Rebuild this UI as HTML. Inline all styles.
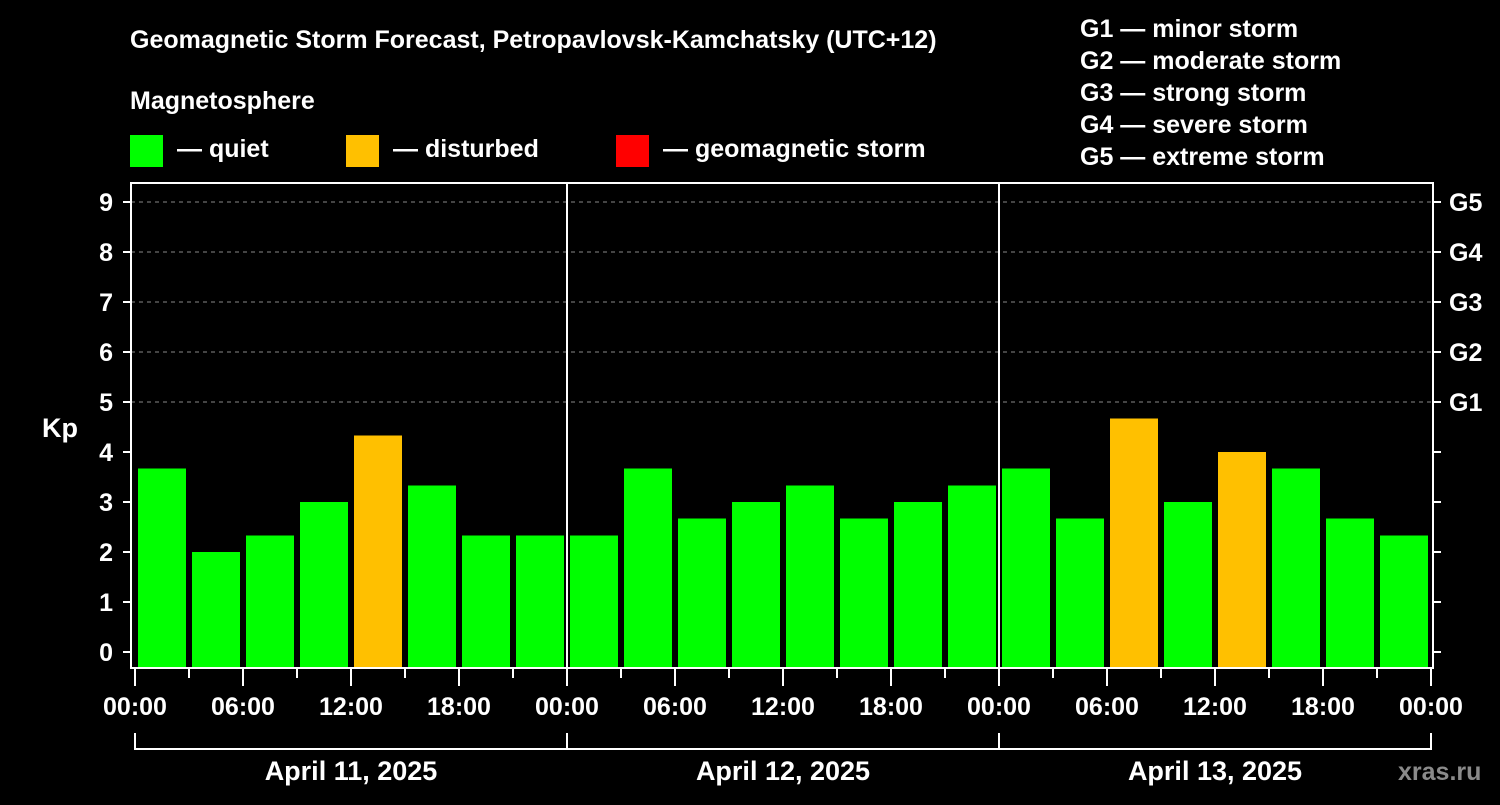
<!DOCTYPE html>
<html><head><meta charset="utf-8"><style>
body{margin:0;background:#000;width:1500px;height:800px;overflow:hidden}
svg text{font-family:"Liberation Sans",Arial,sans-serif;font-weight:bold;fill:#fff}
</style></head><body>
<svg id="c" width="1500" height="800" xmlns="http://www.w3.org/2000/svg">
<rect width="1500" height="800" fill="#000"/>
<text x="130" y="48" font-size="25">Geomagnetic Storm Forecast, Petropavlovsk-Kamchatsky (UTC+12)</text>
<text x="130" y="109" font-size="25">Magnetosphere</text>
<g><rect x="130" y="135" width="33" height="32" fill="#00ff00"/><text x="177" y="157" font-size="25">— quiet</text></g>
<g><rect x="346" y="135" width="33" height="32" fill="#ffc000"/><text x="393" y="157" font-size="25">— disturbed</text></g>
<g><rect x="616" y="135" width="33" height="32" fill="#ff0000"/><text x="663" y="157" font-size="25">— geomagnetic storm</text></g>
<g font-size="25">
<text x="1080" y="37">G1 — minor storm</text>
<text x="1080" y="69">G2 — moderate storm</text>
<text x="1080" y="101">G3 — strong storm</text>
<text x="1080" y="133">G4 — severe storm</text>
<text x="1080" y="165">G5 — extreme storm</text>
</g>
<text x="42" y="437" font-size="27">Kp</text>
<g id="grid"></g><g id="bars"></g><g id="axes"></g>
<text x="1398" y="780" font-size="25" fill="#888" style="fill:#8a8a8a">xras.ru</text>
</svg>
<script>
const days = ["April 11, 2025","April 12, 2025","April 13, 2025"];
const kpValues = [3.67,2,2.33,3,4.33,3.33,2.33,2.33, 2.33,3.67,2.67,3,3.33,2.67,3,3.33, 3.67,2.67,4.67,3,4,3.67,2.67,2.33];
const timeLabels = ["00:00","06:00","12:00","18:00"];
const yTicks = [0,1,2,3,4,5,6,7,8,9];
const gLabels = ["G1","G2","G3","G4","G5"];
const NS="http://www.w3.org/2000/svg";
const X0=135, DAYW=432, SLOT=54, Y0=652, UNIT=50, TOP=183, BOT=668, L=131, R=1433;
const xs = i => X0 + i*SLOT;
const ys = v => Y0 - v*UNIT;
function mk(tag, attrs, parent, txt){const e=document.createElementNS(NS,tag);for(const k in attrs)e.setAttribute(k,attrs[k]);if(txt!==undefined)e.textContent=txt;parent.appendChild(e);return e;}
const grid=document.getElementById('grid'), bars=document.getElementById('bars'), axes=document.getElementById('axes');
for(let v=5;v<=9;v++){
  const l=mk('line',{x1:L,x2:R,y1:ys(v),y2:ys(v),stroke:'#888','stroke-dasharray':'4,4','stroke-width':1},grid);
  
  
}
kpValues.forEach((v,i)=>{
  const r=mk('rect',{x:xs(i)+3,y:ys(v),width:48,height:BOT-ys(v),fill:v>=4?'#ffc000':'#00ff00'},bars);
  
  
});
const fr=mk('rect',{x:L,y:TOP,width:R-L,height:BOT-TOP,fill:'none',stroke:'#fff','stroke-width':2},axes);


for(let d=1;d<days.length;d++){
  const l=mk('line',{x1:X0+d*DAYW,x2:X0+d*DAYW,y1:TOP,y2:BOT,stroke:'#fff','stroke-width':2},axes);
  
  
}
yTicks.forEach(v=>{
  mk('line',{x1:L-8,x2:L,y1:ys(v),y2:ys(v),stroke:'#fff','stroke-width':2},axes);
  mk('line',{x1:R,x2:R+8,y1:ys(v),y2:ys(v),stroke:'#fff','stroke-width':2},axes);
  const t=mk('text',{x:113,y:ys(v)+9,'font-size':25,'text-anchor':'end'},axes,String(v));
  
  
});
gLabels.forEach((g,i)=>{
  const t=mk('text',{x:1449,y:ys(i+5)+9,'font-size':25},axes,g);
  
  
});
for(let i=0;i<=kpValues.length;i++){
  const major=i%2===0;
  mk('line',{x1:xs(i),x2:xs(i),y1:BOT,y2:major?686:678,stroke:'#fff','stroke-width':2},axes);
  if(major){
    const t=mk('text',{x:xs(i),y:715,'font-size':25,'text-anchor':'middle'},axes,timeLabels[(i/2)%4]);
    
    
  }
}
days.forEach((d,k)=>{
  const a=X0+k*DAYW,b=a+DAYW;
  mk('path',{d:`M${a} 733V749H${b}V733`,stroke:'#fff','stroke-width':2,fill:'none'},axes);
  const t=mk('text',{x:(a+b)/2,y:780,'font-size':27,'text-anchor':'middle'},axes,d);
  
  
});
</script>
</body></html>
